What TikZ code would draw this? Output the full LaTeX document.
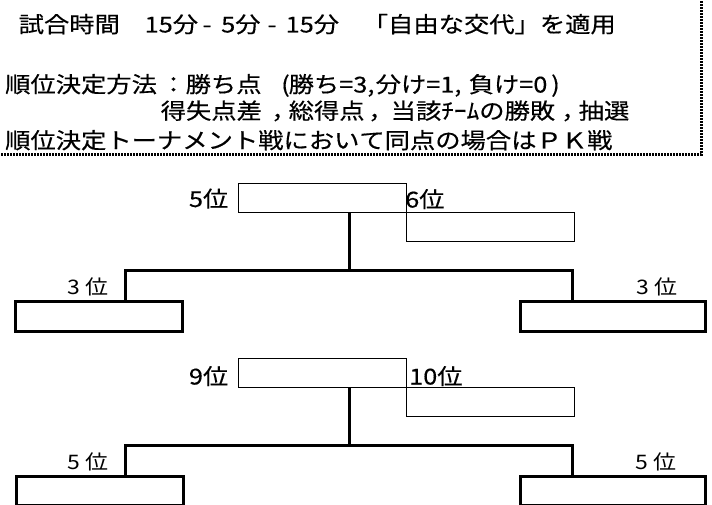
\documentclass[tikz,border=0pt]{standalone}
\usepackage{fontspec}
\newfontfamily\jp[FakeStretch=1.15, FakeBold=0.4, Kerning=Off]{Noto Sans CJK JP}
\newfontfamily\jplight[FakeStretch=1.15, Kerning=Off]{Noto Sans CJK JP}
\begin{document}
\begin{tikzpicture}[x=1pt,y=-1pt,
  hdr/.style={anchor=base west, inner sep=0pt, font=\jp\fontsize{22}{26}\selectfont},
  lbl/.style={inner sep=0pt, font=\jp\fontsize{22}{26}\selectfont},
  lblsm/.style={inner sep=0pt, font=\jplight\fontsize{20}{24}\selectfont},
  thinbox/.style={draw, line width=1pt, inner sep=0pt, anchor=north west},
  thickbox/.style={draw, line width=3pt, inner sep=0pt, anchor=north west},
  bracket/.style={line width=3pt},
  border/.style={line width=3pt, dash pattern=on 2pt off 1pt}]
\useasboundingbox (0,0) rectangle (712,505);
\fill[white] (0,0) rectangle (712,505);
% header
\coordinate (bc) at (701.7,154.2);
\coordinate (bl) at (-5,154.2);
\coordinate (bt) at (701.7,-5);
\draw[border] (bl) -- (bc) -- (bt);
\node[hdr] (h1a) at (18.5,32.5) {試合時間};
\node[hdr] (h1b) at (144.5,32.5) {15分};
\node[hdr, anchor=base] (h1c) at (207,32.5) {-};
\node[hdr] (h1d) at (221,32.5) {5分};
\node[hdr, anchor=base] (h1e) at (272,32.5) {-};
\node[hdr] (h1f) at (285.5,32.5) {15分};
\node[hdr, anchor=base east] (h1g) at (616,32.5) {「自由な交代」を適用};
% line 2
\node[hdr] (h2a) at (5,92.5) {順位決定方法};
\node[hdr, anchor=base] (h2b) at (173.5,92.5) {：};
\node[hdr] (h2c) at (185.5,92.5) {勝ち点};
\node[hdr, anchor=base] (h2d) at (285.5,92.5) {(};
\node[hdr] (h2e) at (288.5,92.5) {勝ち=3,};
\node[hdr] (h2f) at (375.5,92.5) {分け=1,};
\node[hdr] (h2g) at (468.5,92.5) {負け=0};
\node[hdr, anchor=base] (h2h) at (555.5,92.5) {)};
% line 3
\node[hdr] (h3a) at (160.5,119) {得失点差};
\node[hdr] (h3b) at (271,119) {，};
\node[hdr] (h3c) at (288.5,119) {総得点};
\node[hdr] (h3d) at (368,119) {，};
\node[hdr] (h3e) at (390.5,119) {当該ﾁｰﾑの勝敗};
\node[hdr] (h3f) at (561,119) {，};
\node[hdr] (h3g) at (578.5,119) {抽選};
% line 4
\node[hdr] (h4) at (5,148.5) {順位決定トーナメント戦において同点の場合はＰＫ戦};
% upper bracket
\node[thinbox, minimum width=168pt, minimum height=29pt] (a1) at (238,183.3) {};
\node[thinbox, minimum width=168pt, minimum height=29pt] (a2) at (406,212.3) {};
\node[lbl, anchor=base east] (ta1) at (228.5,207) {5位};
\node[lbl, anchor=base west] (ta2) at (405,207.5) {6位};
\node[thickbox, minimum width=167pt, minimum height=30pt] (l1) at (14,300.3) {};
\node[thickbox, minimum width=185pt, minimum height=30pt] (r1) at (518.7,300.3) {};
\node[lblsm, anchor=base east] (tl1) at (109,294) {3 位};
\node[lblsm, anchor=base east] (tr1) at (678,294) {3 位};
\coordinate (j1) at (349.3,270.5);
\coordinate (jl1) at (125.7,270.5);
\coordinate (jr1) at (572.7,270.5);
\draw[bracket] (j1 |- a1.south) -- (j1);
\draw[bracket] (jl1 |- l1.north) -- (jl1) -- (jr1) -- (jr1 |- r1.north);
% lower bracket
\node[thinbox, minimum width=168pt, minimum height=29pt] (b1) at (238,358.3) {};
\node[thinbox, minimum width=168pt, minimum height=29pt] (b2) at (406,387.3) {};
\node[lbl, anchor=base east] (tb1) at (228.5,384.5) {9位};
\node[lbl, anchor=base west] (tb2) at (409,384.5) {10位};
\node[thickbox, minimum width=167pt, minimum height=29pt] (l2) at (14.7,474.7) {};
\node[thickbox, minimum width=185pt, minimum height=29pt] (r2) at (518.7,474.7) {};
\node[lblsm, anchor=base east] (tl2) at (109,469) {5 位};
\node[lblsm, anchor=base east] (tr2) at (677,469) {5 位};
\coordinate (j2) at (349.3,445);
\coordinate (jl2) at (125.7,445);
\coordinate (jr2) at (572.7,445);
\draw[bracket] (j2 |- b1.south) -- (j2);
\draw[bracket] (jl2 |- l2.north) -- (jl2) -- (jr2) -- (jr2 |- r2.north);
\end{tikzpicture}
\end{document}
